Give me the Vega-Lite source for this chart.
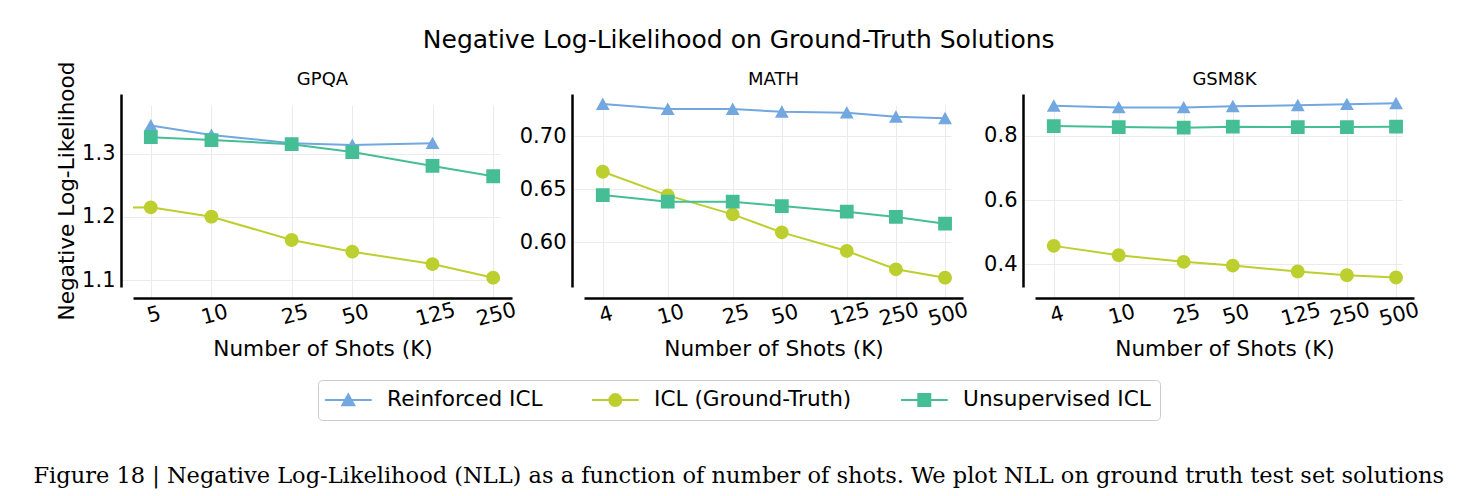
{
  "$schema": "https://vega.github.io/schema/vega-lite/v6.json",
  "background": "white",
  "padding": {"left": 33, "top": 28, "right": 5, "bottom": 5},
  "data": {
    "values": [
      {"task": "GPQA", "series": "Reinforced ICL", "k": 5, "nll": 1.345},
      {"task": "GPQA", "series": "Reinforced ICL", "k": 10, "nll": 1.330},
      {"task": "GPQA", "series": "Reinforced ICL", "k": 25, "nll": 1.317},
      {"task": "GPQA", "series": "Reinforced ICL", "k": 50, "nll": 1.314},
      {"task": "GPQA", "series": "Reinforced ICL", "k": 125, "nll": 1.317},
      {"task": "MATH", "series": "Reinforced ICL", "k": 4, "nll": 0.7305},
      {"task": "MATH", "series": "Reinforced ICL", "k": 10, "nll": 0.7258},
      {"task": "MATH", "series": "Reinforced ICL", "k": 25, "nll": 0.7258},
      {"task": "MATH", "series": "Reinforced ICL", "k": 50, "nll": 0.7232},
      {"task": "MATH", "series": "Reinforced ICL", "k": 125, "nll": 0.7223},
      {"task": "MATH", "series": "Reinforced ICL", "k": 250, "nll": 0.7185},
      {"task": "MATH", "series": "Reinforced ICL", "k": 500, "nll": 0.717},
      {"task": "GSM8K", "series": "Reinforced ICL", "k": 4, "nll": 0.894},
      {"task": "GSM8K", "series": "Reinforced ICL", "k": 10, "nll": 0.889},
      {"task": "GSM8K", "series": "Reinforced ICL", "k": 25, "nll": 0.889},
      {"task": "GSM8K", "series": "Reinforced ICL", "k": 50, "nll": 0.8925},
      {"task": "GSM8K", "series": "Reinforced ICL", "k": 125, "nll": 0.8956},
      {"task": "GSM8K", "series": "Reinforced ICL", "k": 250, "nll": 0.899},
      {"task": "GSM8K", "series": "Reinforced ICL", "k": 500, "nll": 0.902},
      {"task": "GPQA", "series": "ICL (Ground-Truth)", "k": 1, "nll": 1.214},
      {"task": "GPQA", "series": "ICL (Ground-Truth)", "k": 5, "nll": 1.2154},
      {"task": "GPQA", "series": "ICL (Ground-Truth)", "k": 10, "nll": 1.2005},
      {"task": "GPQA", "series": "ICL (Ground-Truth)", "k": 25, "nll": 1.1635},
      {"task": "GPQA", "series": "ICL (Ground-Truth)", "k": 50, "nll": 1.145},
      {"task": "GPQA", "series": "ICL (Ground-Truth)", "k": 125, "nll": 1.1254},
      {"task": "GPQA", "series": "ICL (Ground-Truth)", "k": 250, "nll": 1.1037},
      {"task": "MATH", "series": "ICL (Ground-Truth)", "k": 4, "nll": 0.6666},
      {"task": "MATH", "series": "ICL (Ground-Truth)", "k": 10, "nll": 0.6443},
      {"task": "MATH", "series": "ICL (Ground-Truth)", "k": 25, "nll": 0.6264},
      {"task": "MATH", "series": "ICL (Ground-Truth)", "k": 50, "nll": 0.6094},
      {"task": "MATH", "series": "ICL (Ground-Truth)", "k": 125, "nll": 0.5918},
      {"task": "MATH", "series": "ICL (Ground-Truth)", "k": 250, "nll": 0.5745},
      {"task": "MATH", "series": "ICL (Ground-Truth)", "k": 500, "nll": 0.5666},
      {"task": "GSM8K", "series": "ICL (Ground-Truth)", "k": 4, "nll": 0.4573},
      {"task": "GSM8K", "series": "ICL (Ground-Truth)", "k": 10, "nll": 0.428},
      {"task": "GSM8K", "series": "ICL (Ground-Truth)", "k": 25, "nll": 0.4075},
      {"task": "GSM8K", "series": "ICL (Ground-Truth)", "k": 50, "nll": 0.396},
      {"task": "GSM8K", "series": "ICL (Ground-Truth)", "k": 125, "nll": 0.3773},
      {"task": "GSM8K", "series": "ICL (Ground-Truth)", "k": 250, "nll": 0.366},
      {"task": "GSM8K", "series": "ICL (Ground-Truth)", "k": 500, "nll": 0.3586},
      {"task": "GPQA", "series": "Unsupervised ICL", "k": 5, "nll": 1.3265},
      {"task": "GPQA", "series": "Unsupervised ICL", "k": 10, "nll": 1.322},
      {"task": "GPQA", "series": "Unsupervised ICL", "k": 25, "nll": 1.3154},
      {"task": "GPQA", "series": "Unsupervised ICL", "k": 50, "nll": 1.303},
      {"task": "GPQA", "series": "Unsupervised ICL", "k": 125, "nll": 1.281},
      {"task": "GPQA", "series": "Unsupervised ICL", "k": 250, "nll": 1.2646},
      {"task": "MATH", "series": "Unsupervised ICL", "k": 4, "nll": 0.6446},
      {"task": "MATH", "series": "Unsupervised ICL", "k": 10, "nll": 0.6383},
      {"task": "MATH", "series": "Unsupervised ICL", "k": 25, "nll": 0.6383},
      {"task": "MATH", "series": "Unsupervised ICL", "k": 50, "nll": 0.6342},
      {"task": "MATH", "series": "Unsupervised ICL", "k": 125, "nll": 0.6289},
      {"task": "MATH", "series": "Unsupervised ICL", "k": 250, "nll": 0.6239},
      {"task": "MATH", "series": "Unsupervised ICL", "k": 500, "nll": 0.6176},
      {"task": "GSM8K", "series": "Unsupervised ICL", "k": 4, "nll": 0.831},
      {"task": "GSM8K", "series": "Unsupervised ICL", "k": 10, "nll": 0.828},
      {"task": "GSM8K", "series": "Unsupervised ICL", "k": 25, "nll": 0.826},
      {"task": "GSM8K", "series": "Unsupervised ICL", "k": 50, "nll": 0.829},
      {"task": "GSM8K", "series": "Unsupervised ICL", "k": 125, "nll": 0.828},
      {"task": "GSM8K", "series": "Unsupervised ICL", "k": 250, "nll": 0.828},
      {"task": "GSM8K", "series": "Unsupervised ICL", "k": 500, "nll": 0.829}
    ]
  },
  "title": {
    "text": "Figure 18 | Negative Log-Likelihood (NLL) as a function of number of shots. We plot NLL on ground truth test set solutions",
    "orient": "bottom",
    "anchor": "middle",
    "frame": "bounds",
    "font": "DejaVu Serif",
    "fontSize": 22.5,
    "fontWeight": "normal",
    "color": "black",
    "offset": 44
  },
  "vconcat": [
    {
      "title": {
        "text": "Negative Log-Likelihood on Ground-Truth Solutions",
        "anchor": "middle",
        "frame": "bounds",
        "fontSize": 25,
        "fontWeight": "normal",
        "color": "black",
        "offset": 8
      },
      "bounds": "flush",
      "spacing": 72,
      "hconcat": [
        {
          "width": 379,
          "height": 193,
          "title": {"text": "GPQA", "offset": -27.5},
          "transform": [{"filter": "datum.task === 'GPQA'"}],
          "encoding": {
            "x": {"field": "k", "type": "quantitative", "scale": {"type": "log", "domain": [4.08, 310], "nice": false}, "axis": {"values": [5, 10, 25, 50, 125, 250], "format": "d", "title": "Number of Shots (K)"}},
            "y": {"field": "nll", "type": "quantitative", "scale": {"domain": [1.089, 1.395], "nice": false, "zero": false}, "axis": {"values": [1.1, 1.2, 1.3], "format": ".1f", "title": "Negative Log-Likelihood"}},
            "color": {"field": "series", "type": "nominal", "scale": {"domain": ["Reinforced ICL", "ICL (Ground-Truth)", "Unsupervised ICL"], "range": ["#72a7e0", "#bccf2f", "#45be96"]},
              "legend": {
                "orient": "none",
                "legendX": 185,
                "legendY": 286,
                "direction": "horizontal",
                "title": null,
                "strokeColor": "#cccccc",
                "cornerRadius": 4,
                "padding": 9,
                "labelFontSize": 21.6,
                "labelColor": "black",
                "labelLimit": 400,
                "symbolSize": 144,
                "symbolOffset": 10.5,
                "symbolStrokeWidth": 2,
                "labelOffset": 28,
                "columnPadding": 44
              }
            }
          },
          "layer": [
            {"mark": {"type": "line", "strokeWidth": 2, "clip": true}, "encoding": {}},
            {"mark": {"type": "point", "filled": true, "opacity": 1, "size": 190, "strokeWidth": 0, "clip": true},
             "encoding": {
               "shape": {"field": "series", "type": "nominal", "scale": {"domain": ["Reinforced ICL", "ICL (Ground-Truth)", "Unsupervised ICL"], "range": ["M-3.9,0H3.9M0,-0.95L1,0.85L-1,0.85Z", "M-3.9,0H3.9M1,0A1,1,0,1,1,-1,0A1,1,0,1,1,1,0Z", "M-3.9,0H3.9M-1,-1H1V1H-1Z"]}},
               "stroke": {"field": "series", "type": "nominal", "scale": {"domain": ["Reinforced ICL", "ICL (Ground-Truth)", "Unsupervised ICL"], "range": ["#72a7e0", "#bccf2f", "#45be96"]}}
             }}
          ]
        },
        {
          "width": 379,
          "height": 193,
          "title": {"text": "MATH"},
          "transform": [{"filter": "datum.task === 'MATH'"}],
          "encoding": {
            "x": {"field": "k", "type": "quantitative", "scale": {"type": "log", "domain": [3.07, 644], "nice": false}, "axis": {"values": [4, 10, 25, 50, 125, 250, 500], "format": "d", "title": "Number of Shots (K)"}},
            "y": {"field": "nll", "type": "quantitative", "scale": {"domain": [0.5578, 0.74], "nice": false, "zero": false}, "axis": {"values": [0.6, 0.65, 0.7], "format": ".2f", "title": null}},
            "color": {"field": "series", "type": "nominal"}
          },
          "layer": [
            {"mark": {"type": "line", "strokeWidth": 2, "clip": true}, "encoding": {}},
            {"mark": {"type": "point", "filled": true, "opacity": 1, "size": 190, "strokeWidth": 0, "clip": true},
             "encoding": {"shape": {"field": "series", "type": "nominal"}, "stroke": {"field": "series", "type": "nominal"}}}
          ]
        },
        {
          "width": 379,
          "height": 193,
          "title": {"text": "GSM8K"},
          "transform": [{"filter": "datum.task === 'GSM8K'"}],
          "encoding": {
            "x": {"field": "k", "type": "quantitative", "scale": {"type": "log", "domain": [3.07, 644], "nice": false}, "axis": {"values": [4, 10, 25, 50, 125, 250, 500], "format": "d", "title": "Number of Shots (K)"}},
            "y": {"field": "nll", "type": "quantitative", "scale": {"domain": [0.329, 0.931], "nice": false, "zero": false}, "axis": {"values": [0.4, 0.6, 0.8], "format": ".1f", "title": null}},
            "color": {"field": "series", "type": "nominal"}
          },
          "layer": [
            {"mark": {"type": "line", "strokeWidth": 2, "clip": true}, "encoding": {}},
            {"mark": {"type": "point", "filled": true, "opacity": 1, "size": 190, "strokeWidth": 0, "clip": true},
             "encoding": {"shape": {"field": "series", "type": "nominal"}, "stroke": {"field": "series", "type": "nominal"}}}
          ]
        }
      ]
    }
  ],
  "config": {
    "font": "DejaVu Sans",
    "view": {"stroke": null},
    "axis": {
      "domainColor": "black",
      "domainWidth": 2.5,
      "ticks": false,
      "labelFontSize": 21,
      "labelColor": "black",
      "labelPadding": 6,
      "titleFontSize": 21.6,
      "titleFontWeight": "normal",
      "titleColor": "black",
      "gridColor": "#ebebeb",
      "gridWidth": 1
    },
    "axisY": {"offset": 12, "titlePadding": 3},
    "axisX": {"offset": 11, "labelAngle": -15, "labelAlign": "center", "labelBaseline": "top", "titlePadding": 9},
    "title": {"fontSize": 18, "fontWeight": "normal", "color": "black", "offset": 5, "frame": "group"}
  }
}
